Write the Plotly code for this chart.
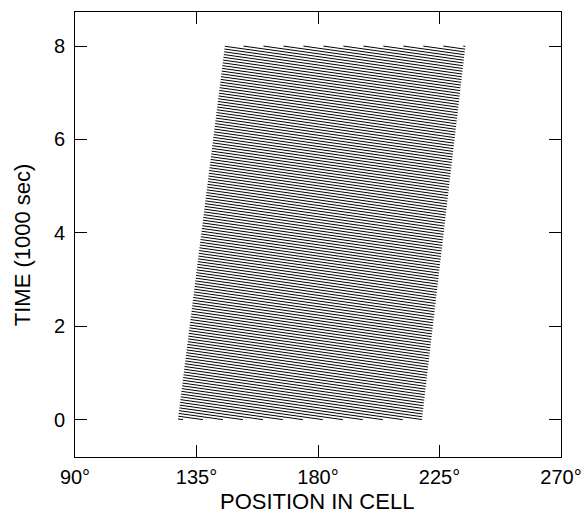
import numpy as np
import plotly.graph_objects as go

# Envelope of the localized wave pulse (time in 1000 s, position in degrees)
env_time = [0.0, 8.0]
env_left = [128.1, 145.5]
env_right = [218.5, 234.6]

# Phase lines inside the pulse
phase_speed = 123.0      # deg per 1000 s (phase moves toward smaller position)
wavelength = 7.4         # deg between successive phase lines
phase_ref_pos = 189.4    # deg, a phase line position at the top edge (t = 8)

x_ticks = [90, 135, 180, 225, 270]
x_tick_text = ["90°", "135°", "180°", "225°", "270°"]
y_ticks = [0, 2, 4, 6, 8]

t0, t1 = env_time
bL = (env_left[1] - env_left[0]) / (t1 - t0)
bR = (env_right[1] - env_right[0]) / (t1 - t0)
aL = env_left[0] - bL * t0
aR = env_right[0] - bR * t0

# x0 = position of a phase line extrapolated to t = 0
x0_ref = phase_ref_pos + phase_speed * t1
x0_lo = aL + phase_speed * t0 - wavelength
x0_hi = aR + (phase_speed + bR) * t1 + wavelength
k_lo = int(np.floor((x0_lo - x0_ref) / wavelength))
k_hi = int(np.ceil((x0_hi - x0_ref) / wavelength))

xs, ys = [], []
for k in range(k_lo, k_hi + 1):
    x0 = x0_ref + k * wavelength
    tL = (x0 - aL) / (phase_speed + bL)
    tR = (x0 - aR) / (phase_speed + bR)
    ta = max(t0, tR)
    tb = min(t1, tL)
    if tb <= ta:
        continue
    xs += [x0 - phase_speed * ta, x0 - phase_speed * tb, None]
    ys += [ta, tb, None]

fig = go.Figure()
fig.add_trace(go.Scatter(x=xs, y=ys, mode="lines",
                         line=dict(color="black", width=1),
                         showlegend=False, hoverinfo="skip"))

font = "Liberation Sans, Arial, Helvetica, sans-serif"
fig.update_layout(
    width=583, height=514,
    margin=dict(l=75, r=22, t=12, b=57, autoexpand=False),
    paper_bgcolor="white", plot_bgcolor="white",
    font=dict(family=font, size=20, color="black"),
    xaxis=dict(range=[90, 270], tickvals=x_ticks, ticktext=x_tick_text,
               ticks="inside", ticklen=12, tickwidth=1, tickcolor="black",
               showline=True, linecolor="black", linewidth=1, mirror="ticks",
               showgrid=False, zeroline=False, ticklabelstandoff=2,
               automargin=False),
    yaxis=dict(range=[-0.8, 8.73], tickvals=y_ticks,
               ticks="inside", ticklen=12, tickwidth=1, tickcolor="black",
               showline=True, linecolor="black", linewidth=1, mirror="ticks",
               showgrid=False, zeroline=False, ticklabelstandoff=5,
               automargin=False),
    annotations=[
        dict(text="POSITION IN CELL", xref="paper", yref="paper",
             x=0.498, y=-0.099, showarrow=False, font=dict(size=22),
             xanchor="center", yanchor="middle"),
        dict(text="TIME (1000 sec)", xref="paper", yref="paper",
             x=-0.109, y=0.476, showarrow=False, font=dict(size=22),
             textangle=-90, xanchor="center", yanchor="middle"),
    ],
)
fig.write_html("out.html", config={"displayModeBar": False},
               post_script="document.body.style.margin='0';")
